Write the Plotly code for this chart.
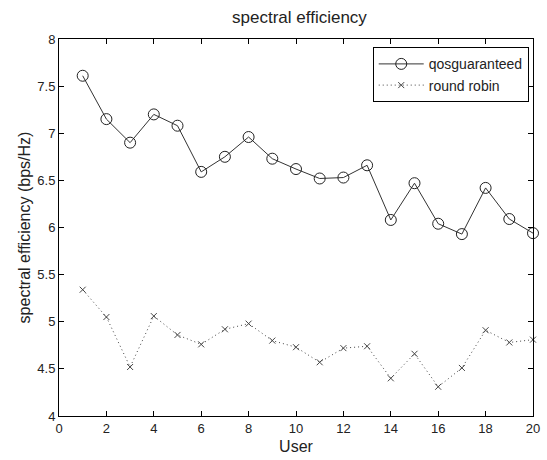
import plotly.graph_objects as go

users = list(range(1, 21))
qos_guaranteed = [7.61, 7.15, 6.90, 7.20, 7.08, 6.59, 6.75, 6.96, 6.73, 6.62,
                  6.52, 6.53, 6.66, 6.08, 6.47, 6.04, 5.93, 6.42, 6.09, 5.94]
round_robin = [5.34, 5.05, 4.52, 5.06, 4.86, 4.76, 4.92, 4.98, 4.80, 4.73,
               4.57, 4.72, 4.74, 4.40, 4.66, 4.31, 4.51, 4.91, 4.78, 4.81]
x_ticks = list(range(0, 21, 2))
y_ticks = [4, 4.5, 5, 5.5, 6, 6.5, 7, 7.5, 8]

font = "Liberation Sans, Arial, sans-serif"

fig = go.Figure()
fig.add_trace(go.Scatter(
    x=users, y=qos_guaranteed, name="qosguaranteed", mode="lines+markers",
    line=dict(color="#333333", width=1, dash="solid"),
    marker=dict(symbol="circle-open", size=11, color="#222222", line=dict(width=1)),
    cliponaxis=False,
))
fig.add_trace(go.Scatter(
    x=users, y=round_robin, name="round robin", mode="lines+markers",
    line=dict(color="#444444", width=1, dash="1px,3px"),
    marker=dict(symbol="x-thin-open", size=6, color="#444444", line=dict(width=1, color="#444444")),
    cliponaxis=False,
))

axis_common = dict(
    showgrid=False, zeroline=False, showline=True, linecolor="black", linewidth=1,
    mirror="ticks", ticks="inside", ticklen=5, tickcolor="black",
    tickfont=dict(family=font, size=13, color="#222222"),
    ticklabeloverflow="allow",
)
fig.update_xaxes(range=[0, 20], tickvals=x_ticks, ticktext=[str(v) for v in x_ticks],
                 title=dict(text="User", font=dict(family=font, size=16, color="#222222"), standoff=6),
                 **axis_common)
fig.update_yaxes(range=[4, 8], tickvals=y_ticks, ticktext=[("%g" % v) for v in y_ticks],
                 title=dict(text="spectral efficiency (bps/Hz)", font=dict(family=font, size=16, color="#222222"), standoff=2),
                 **axis_common)

fig.update_layout(
    width=547, height=460,
    margin=dict(l=59, r=7, t=39, b=41),
    paper_bgcolor="white", plot_bgcolor="white",
    title=dict(text="spectral efficiency", x=0.5475, xanchor="center", y=0.975, yanchor="top",
               font=dict(family=font, size=17, color="#222222")),
    showlegend=True,
    legend=dict(x=0.991, y=0.978, xanchor="right", yanchor="top",
                bordercolor="black", borderwidth=1, bgcolor="white",
                font=dict(family=font, size=14, color="#222222"),
                tracegroupgap=0, itemwidth=45),
)

fig.write_html("out.html", config={"displayModeBar": False},
               post_script="document.body.style.margin='0';")
